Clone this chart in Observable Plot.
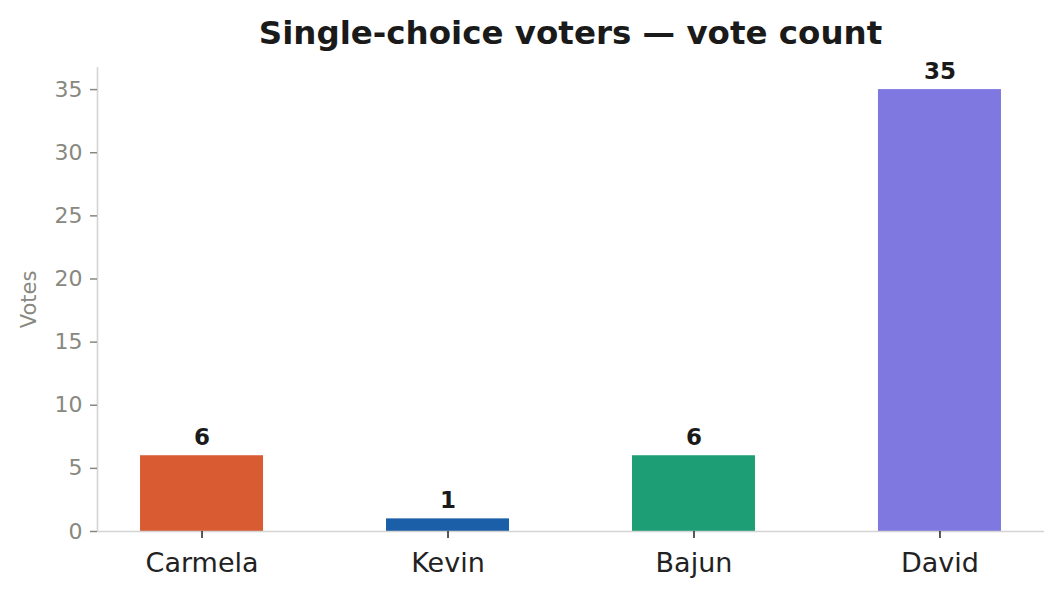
<!DOCTYPE html>
<html>
<head>
<meta charset="utf-8">
<script src="https://cdn.jsdelivr.net/npm/d3@7"></script>
<script src="https://cdn.jsdelivr.net/npm/@observablehq/plot@0.6"></script>
<style>
  html, body { margin: 0; padding: 0; background: #fff; }
  #wrap { width: 1061px; height: 595px; position: relative; overflow: hidden; }
  #title { position: absolute; left: 97px; width: 947px; top: 17px; text-align: center;
           font-family: "DejaVu Sans", sans-serif; font-weight: bold; font-size: 32.5px; line-height: 1; color: #1a1a1a; }
  #chart { position: absolute; left: 0; top: 55px; }
</style>
</head>
<body>
<div id="wrap">
  <div id="title">Single-choice voters — vote count</div>
  <div id="chart"></div>
</div>
<script>
const categories = ["Carmela", "Kevin", "Bajun", "David"];
const votes = [6, 1, 6, 35];
const barColors = ["#d95b31", "#1a5fa8", "#1d9e74", "#7f78e0"];
const yTicks = [0, 5, 10, 15, 20, 25, 30, 35];
const yLabel = "Votes";

const data = categories.map((name, i) => ({ name, i, votes: votes[i], color: barColors[i] }));

const grey = "#88887f";
const spine = "#d4d4d4";
const xDomain = [-0.425, categories.length - 1 + 0.425];
const yDomain = [0, 36.75];

const chart = Plot.plot({
  width: 1061,
  height: 540,
  marginTop: 12,
  marginBottom: 64,
  marginLeft: 97,
  marginRight: 17,
  style: { fontFamily: "DejaVu Sans, sans-serif", background: "white", overflow: "visible" },
  x: { type: "linear", domain: xDomain },
  y: { domain: yDomain },
  color: { type: "identity" },
  marks: [
    Plot.rectY(data, { x1: d => d.i - 0.25, x2: d => d.i + 0.25, y1: 0, y2: "votes", fill: "color" }),
    Plot.ruleY([0], { stroke: spine, strokeWidth: 1.6 }),
    Plot.ruleX([xDomain[0]], { y1: yDomain[0], y2: yDomain[1], stroke: spine, strokeWidth: 1.6 }),
    Plot.axisY({ ticks: yTicks, tickSize: 7, tickPadding: 8, color: grey, strokeWidth: 1.5, fontSize: 22, label: null }),
    Plot.axisX({ ticks: categories.map((_, i) => i), tickFormat: i => categories[i], tickSize: 7, tickPadding: 14,
                 color: "#222", strokeWidth: 1.5, fontSize: 27, label: null }),
    Plot.text(data, { x: "i", y: "votes", text: d => String(d.votes), dy: -11, lineAnchor: "bottom",
                      fontWeight: "bold", fontSize: 23, fill: "#1a1a1a" }),
    Plot.text([yLabel], { text: d => d, frameAnchor: "left", textAnchor: "middle", dx: -68, rotate: -90, fill: grey, fontSize: 21 })
  ]
});
document.getElementById("chart").appendChild(chart);
</script>
</body>
</html>
